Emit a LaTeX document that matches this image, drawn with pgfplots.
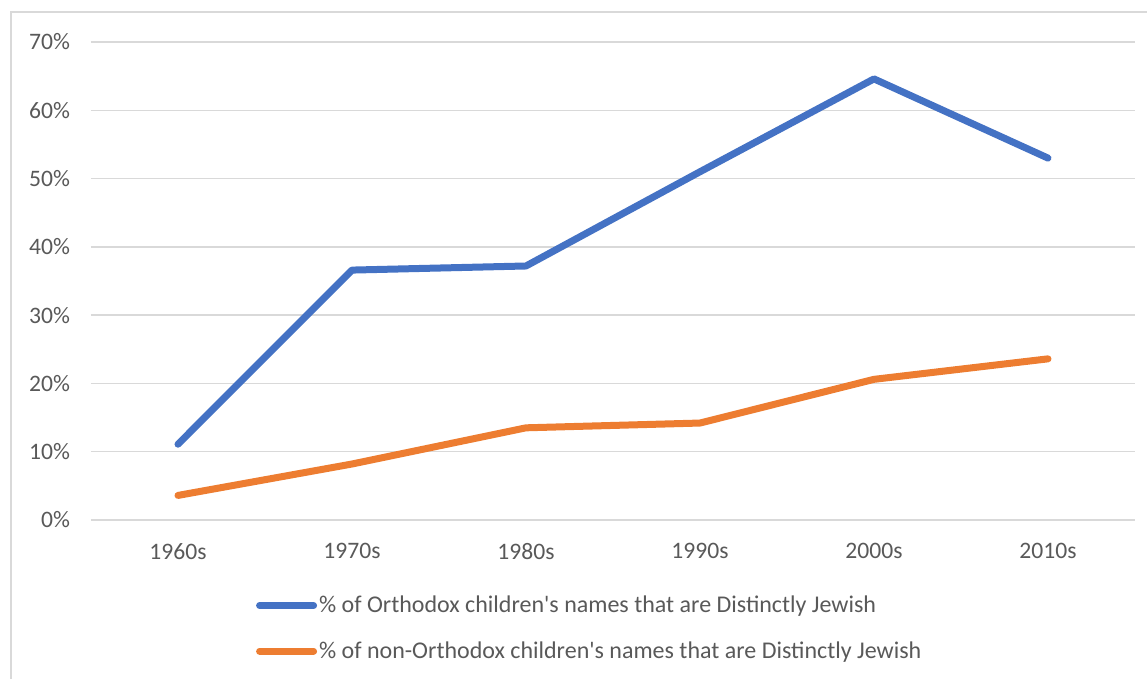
\documentclass[border=0pt]{standalone}
\usepackage{fontspec}
\setmainfont{Carlito}
\usepackage{pgfplots}
\pgfplotsset{compat=1.18}
\definecolor{xlblue}{HTML}{4472C4}
\definecolor{xlorange}{HTML}{ED7D31}
\definecolor{xltext}{HTML}{595959}
\definecolor{xlgrid}{HTML}{D9D9D9}

\begin{document}
\begin{tikzpicture}
\useasboundingbox (0,0) rectangle (573.5pt,-339.5pt);
% chart area frame
\draw[xlgrid, line width=0.8pt] (5.5pt,-350pt) -- (5.5pt,-6pt) -- (590pt,-6pt);
\begin{axis}[
  at={(45.5pt,-260pt)}, anchor=south west,
  scale only axis, width=522pt, height=239pt,
  xmin=-0.5, xmax=5.5, ymin=0, ymax=0.7,
  xtick={0,1,2,3,4,5},
  xticklabels={1960s,1970s,1980s,1990s,2000s,2010s},
  ytick={0,0.1,0.2,0.3,0.4,0.5,0.6,0.7},
  yticklabels={0\%,10\%,20\%,30\%,40\%,50\%,60\%,70\%},
  ymajorgrids,
  major grid style={xlgrid, line width=0.7pt},
  axis line style={draw=none},
  major tick length=0pt,
  tick label style={font=\fontsize{11.8}{13}\selectfont, text=xltext},
  y tick label style={anchor=east, xshift=-7pt},
  x tick label style={anchor=north, yshift=-8pt},
  clip=false,
  legend style={draw=none, fill=none, at={(0.152,-0.145)}, anchor=north west,
    font=\fontsize{12}{13}\selectfont, text=xltext,
    row sep=11pt, nodes={inner sep=1pt}},
  legend cell align=left,
  legend image code/.code={\draw[#1] (0pt,0pt) -- (27pt,0pt);},
  every axis plot/.append style={line width=3.5pt, line cap=round, line join=round},
]
\addplot[xlblue] coordinates {(0,0.111) (1,0.366) (2,0.372) (3,0.510) (4,0.646) (5,0.530)};
\addlegendentry{\% of Orthodox children\textquotesingle s names that are Distinctly Jewish}
\addplot[xlorange] coordinates {(0,0.036) (1,0.082) (2,0.135) (3,0.142) (4,0.206) (5,0.236)};
\addlegendentry{\% of non-Orthodox children\textquotesingle s names that are Distinctly Jewish}
\end{axis}
\end{tikzpicture}
\end{document}
